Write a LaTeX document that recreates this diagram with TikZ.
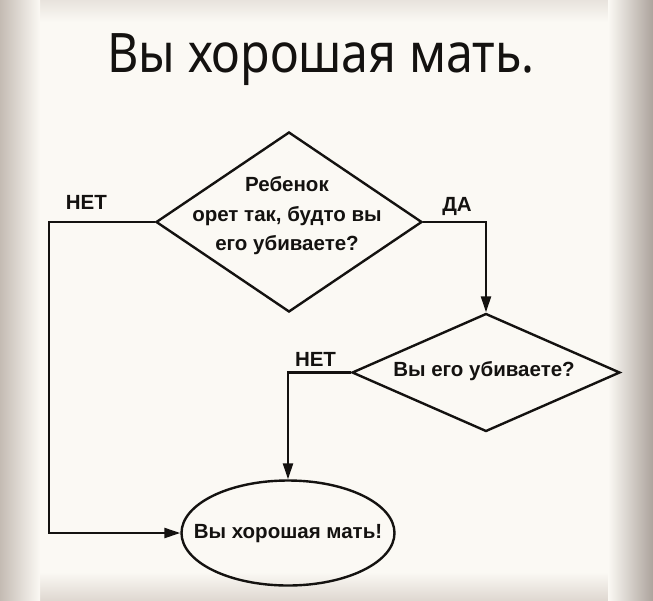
\documentclass[tikz,border=0pt]{standalone}
\usepackage{fontspec}
\setmainfont{Liberation Sans}
\newfontfamily\titlefont[FakeStretch=0.887]{Noto Sans}
\newfontfamily\dinfont{Liberation Sans}
\usetikzlibrary{shapes.geometric,arrows.meta}
\definecolor{bg}{HTML}{FBF9F4}
\definecolor{edgeL}{HTML}{C4BBB3}
\definecolor{edgeR}{HTML}{ACA39C}
\definecolor{edgeT}{HTML}{E8E3DD}
\definecolor{edgeB}{HTML}{DFD8D1}
\definecolor{ink}{HTML}{141210}
\tikzset{
  flow/.style={line width=2.4pt, draw=ink},
  arr/.style={flow, -{Triangle[length=16pt,width=10pt]}},
  decision/.style={diamond, draw=ink, line width=2.4pt, inner sep=0pt, fill=none},
  terminal/.style={ellipse, draw=ink, line width=2.4pt, inner sep=0pt},
  dtext/.style={font=\dinfont\bfseries\fontsize{20.5}{29.5}\selectfont, text=ink, align=center, inner sep=0pt},
  answer/.style={font=\dinfont\bfseries\fontsize{20.5}{24}\selectfont, text=ink, inner sep=0pt},
}
\begin{document}
\begin{tikzpicture}[x=1pt,y=-1pt]
\useasboundingbox (0,0) rectangle (653,600);
% background with vignette
\fill[bg] (0,0) rectangle (653,600);
\shade[top color=edgeT, bottom color=bg] (0,0) rectangle (653,22);
\shade[top color=bg, bottom color=edgeB] (0,572) rectangle (653,600);
\shade[left color=edgeL, right color=bg] (0,0) rectangle (40,600);
\shade[left color=bg, right color=edgeR] (608,0) rectangle (653,600);

% title
\node[anchor=base, font=\titlefont\fontsize{54.5}{60}\selectfont, text=ink, inner sep=0pt] (title) at (321,72) {Вы хорошая мать.};

% nodes
\node[decision, minimum width=266pt, minimum height=180pt] (d1) at (289,222) {};
\node[dtext, anchor=base] (t1) at (287,250.5) {Ребенок\\орет так, будто вы\\его убиваете?};
\node[decision, minimum width=268pt, minimum height=118pt] (d2) at (486,372.5) {};
\node[dtext, anchor=base] (t2) at (484,376) {Вы его убиваете?};
\node[terminal, minimum width=213pt, minimum height=105pt] (e) at (288,533) {};
\node[answer, anchor=base] (et) at (288,538) {Вы хорошая мать!};

% labels
\node[answer, anchor=base] (no1) at (86.3,209.3) {НЕТ};
\node[answer, anchor=base] (yes1) at (457,211.7) {ДА};
\node[answer, anchor=base] (no2) at (315.5,366.7) {НЕТ};

% connectors
\coordinate (c1) at (49,222);
\draw[arr] (d1.west) -- (c1) |- (e.west);
\draw[arr] (d1.east) -| (d2.north);
\draw[arr] (d2.west) -| (e.north);
\end{tikzpicture}
\end{document}
